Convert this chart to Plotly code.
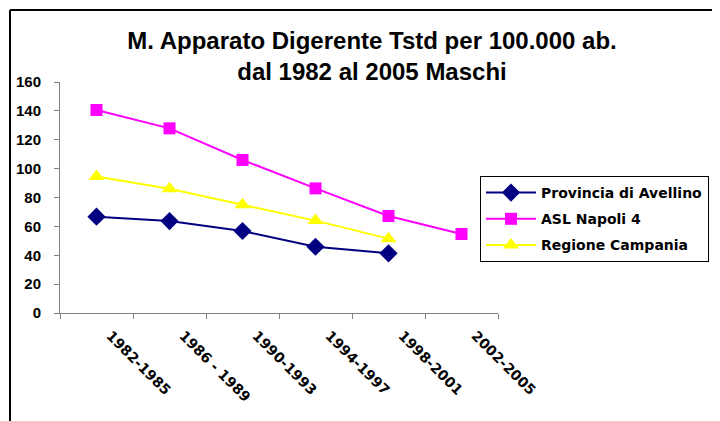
import plotly.graph_objects as go

periods = ["1982-1985", "1986 - 1989", "1990-1993", "1994-1997", "1998-2001", "2002-2005"]
avellino = [66.7, 63.7, 56.8, 45.9, 41.3, None]
napoli4 = [140.6, 127.9, 106.0, 86.3, 67.2, 54.7]
campania = [94.5, 86.0, 75.0, 64.0, 51.5, None]

series_names = ["Provincia di Avellino", "ASL Napoli 4", "Regione Campania"]
y_ticks = [0, 20, 40, 60, 80, 100, 120, 140, 160]

# page body adds an 8px offset; figure coordinates below are screen minus 8
OFF = 8
W, H = 720 - OFF, 421 - OFF
L, R, T, B = 60 - OFF, 222, 82 - OFF, 108
pw, ph = W - L - R, H - T - B

def px_x(x):
    return (x - OFF - L) / pw

def px_y(y):
    return (H - B - (y - OFF)) / ph

fig = go.Figure()
fig.add_trace(go.Scatter(x=periods, y=avellino, name=series_names[0], mode="lines+markers",
                         line=dict(color="#000080", width=2), legendgroup="a",
                         marker=dict(symbol="diamond", size=14, color="#000080")))
fig.add_trace(go.Scatter(x=periods, y=napoli4, name=series_names[1], mode="lines+markers",
                         line=dict(color="#FF00FF", width=2), legendgroup="b",
                         marker=dict(symbol="square", size=12, color="#FF00FF")))
fig.add_trace(go.Scatter(x=periods, y=campania, name=series_names[2], mode="lines+markers",
                         line=dict(color="#FFFF00", width=2), legendgroup="c",
                         marker=dict(symbol="triangle-up", size=14, color="#FFFF00")))

fig.update_layout(
    width=W, height=H,
    margin=dict(l=L, r=R, t=T, b=B, autoexpand=False),
    paper_bgcolor="white", plot_bgcolor="white",
    title=dict(text="<b>M. Apparato Digerente Tstd per 100.000 ab.<br>dal 1982 al 2005 Maschi</b>",
               x=(372 - OFF) / W, xanchor="center", xref="container",
               y=1 - 41 / H, yanchor="top", yref="container",
               font=dict(family="Liberation Sans", size=24, color="black")),
    showlegend=True,
    legend=dict(x=px_x(480), y=px_y(176), xanchor="left", yanchor="top",
                bordercolor="black", borderwidth=1, bgcolor="white",
                tracegroupgap=5, itemwidth=50,
                font=dict(family="DejaVu Sans", size=14, color="black", weight="bold")),
    xaxis=dict(type="category", range=[-0.5, 5.5], showgrid=False, automargin=False,
               showline=True, linecolor="#808080", linewidth=1,
               ticks="outside", ticklen=5, tickcolor="#808080", tickson="boundaries",
               tickangle=45, ticklabelshift=14, ticklabelstandoff=8,
               tickfont=dict(family="DejaVu Sans", size=14, color="black", weight="bold")),
    yaxis=dict(range=[0, 160], tickvals=y_ticks, showgrid=False, automargin=False,
               showline=True, linecolor="#808080", linewidth=1, zeroline=False,
               ticks="outside", ticklen=5, tickcolor="#808080", ticklabelstandoff=10,
               tickfont=dict(family="Liberation Sans", size=15, color="black", weight="bold")),
)

# outer chart frame (left and top edges)
fig.add_shape(type="line", xref="paper", yref="paper",
              x0=px_x(10), y0=px_y(440), x1=px_x(10), y1=px_y(10),
              line=dict(color="black", width=2))
fig.add_shape(type="line", xref="paper", yref="paper",
              x0=px_x(10), y0=px_y(10), x1=px_x(740), y1=px_y(10),
              line=dict(color="black", width=2))

fig.write_html("out.html")
